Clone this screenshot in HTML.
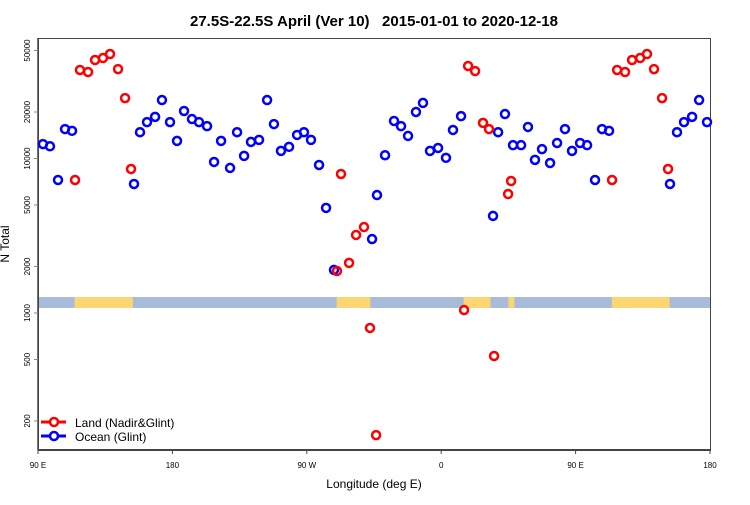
<!DOCTYPE html>
<html><head><meta charset="utf-8"><style>
body{margin:0;background:#fff;}
svg text{font-family:"Liberation Sans",sans-serif;}
</style></head><body>
<svg id="chart" width="750" height="500" xmlns="http://www.w3.org/2000/svg">
<text x="374" y="26" text-anchor="middle" font-size="15" font-weight="bold" style="white-space:pre" xml:space="preserve">27.5S-22.5S April (Ver 10)   2015-01-01 to 2020-12-18</text>
<g id="band"></g>
<g id="axes"></g>
<g id="marks"></g>
<text x="374" y="488" text-anchor="middle" font-size="12">Longitude (deg E)</text>
<text transform="translate(9,244) rotate(-90)" text-anchor="middle" font-size="12">N Total</text>
<g>
<line x1="41" y1="422" x2="66" y2="422" stroke="#f00" stroke-width="3"/>
<circle cx="54" cy="422" r="4" fill="#fff" stroke="#f00" stroke-width="2.5"/>
<text x="75" y="427" font-size="12">Land (Nadir&amp;Glint)</text>
<line x1="41" y1="436" x2="66" y2="436" stroke="#00f" stroke-width="3"/>
<circle cx="54" cy="436" r="4" fill="#fff" stroke="#00f" stroke-width="2.5"/>
<text x="75" y="441" font-size="12">Ocean (Glint)</text>
</g>
</svg>
<script>
const xTickVals=[90,180,270,360,450,540];
const xTickLabels=["90 E","180","90 W","0","90 E","180"];
const yTickVals=[200,500,1000,2000,5000,10000,20000,50000];
const landLon=[114.8,118.1,123.5,128.2,133.5,138.2,143.6,148.3,152.3,290.2,292.9,298.3,303.0,308.3,312.3,316.4,375.3,378.0,382.7,388.0,392.0,395.4,404.8,406.8,474.4,477.8,483.1,487.8,493.2,497.8,502.5,507.9,511.9];
const landVal=[7260,37400,36300,43400,44700,47450,37900,24600,8550,1870,7940,2110,3200,3600,800,162,1045,39700,36800,17000,15500,527,5890,7150,7260,37400,36300,43400,44700,47450,37900,24600,8550];
const oceanLon=[93.3,98.0,103.4,108.1,112.8,154.3,158.3,163.0,168.4,173.0,178.4,183.1,187.8,193.1,197.8,203.2,207.9,212.6,218.6,223.3,228.0,232.6,238.0,243.4,248.0,252.7,258.1,263.5,268.1,272.8,278.2,282.9,288.2,313.7,317.0,322.4,328.4,333.1,337.8,343.1,347.8,352.5,357.9,363.2,367.9,373.3,394.7,398.1,402.7,408.1,413.5,418.1,422.8,427.5,432.9,437.6,442.9,447.6,453.0,457.7,463.0,467.7,472.4,513.2,517.9,522.6,528.0,532.7,538.0];
const oceanVal=[12400,12000,7260,15500,15100,6840,14800,17200,18600,23900,17200,13000,20300,18000,17200,16200,9500,13000,8690,14800,10400,12800,13200,23900,16700,11200,11900,14200,14800,13200,9080,4790,1900,3010,5800,10500,17500,16200,14000,20000,22900,11200,11700,10100,15300,18800,4250,14800,19400,12200,12200,16000,9800,11500,9350,12600,15500,11200,12600,12200,7260,15500,15100,6840,14800,17200,18600,23900,17200];
const landStart=[114.5,290.0,375.0,405.0,474.3];
const landEnd=[153.5,312.5,393.0,409.0,513.0];

const L=38,R=710,T=38,B=450;
const X=v=>L+(v-90)*(R-L)/450;
const Y=v=>313-(Math.log10(v)-3)*154.5;
const NS="http://www.w3.org/2000/svg";
function mk(tag,at,parent){const e=document.createElementNS(NS,tag);for(const k in at)e.setAttribute(k,at[k]);parent.appendChild(e);return e;}
const band=document.getElementById('band'),axes=document.getElementById('axes'),marks=document.getElementById('marks');
let r=mk('rect',{x:L,y:297,width:R-L,height:11,fill:'#a7bcd9'},band);


landStart.forEach((s,i)=>{const e=mk('rect',{x:X(s),y:297,width:X(landEnd[i])-X(s),height:11,fill:'#fdd673'},band);

});
let f=mk('rect',{x:L+0.5,y:T+0.5,width:R-L,height:B-T,fill:'none',stroke:'#444','stroke-width':1},axes);


mk('line',{x1:L,y1:B,x2:R,y2:B,stroke:'#444','stroke-width':2},axes);
mk('line',{x1:L,y1:T,x2:L,y2:B,stroke:'#444','stroke-width':1.5},axes);
xTickVals.forEach((v,i)=>{const x=X(v);mk('line',{x1:x,y1:B,x2:x,y2:B+4,stroke:'#444'},axes);
const t=mk('text',{x:x,y:B+18,'text-anchor':'middle','font-size':8},axes);t.textContent=xTickLabels[i];

});
yTickVals.forEach(v=>{const y=Y(v);mk('line',{x1:L-4,y1:y,x2:L,y2:y,stroke:'#888'},axes);
const t=mk('text',{transform:`translate(${L-8},${y}) rotate(-90)`,'text-anchor':'middle','font-size':8},axes);t.textContent=v;

});
oceanLon.forEach((lon,i)=>{const c=mk('circle',{cx:X(lon),cy:Y(oceanVal[i]),r:4,fill:'none',stroke:'#00f','stroke-width':2.5},marks);

});
landLon.forEach((lon,i)=>{const c=mk('circle',{cx:X(lon),cy:Y(landVal[i]),r:4,fill:'none',stroke:'#f00','stroke-width':2.5},marks);

});
</script>
</body></html>
